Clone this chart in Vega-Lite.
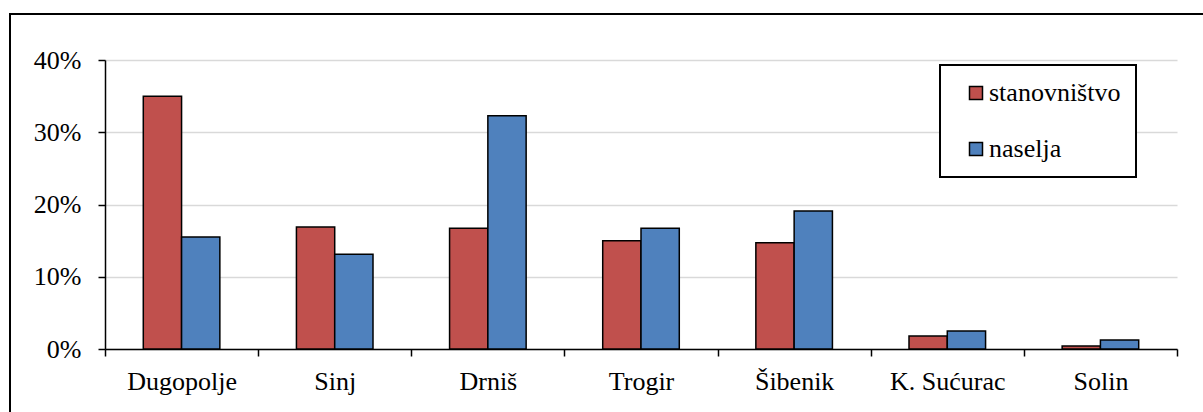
{
  "$schema": "https://vega.github.io/schema/vega-lite/v6.json",
  "autosize": {"type": "none"},
  "padding": {"left": 10, "top": 14, "right": -5, "bottom": -5},
  "width": 1198,
  "height": 403,
  "background": "white",
  "data": {
    "values": [
      {"grad": "Dugopolje", "serija": "stanovništvo", "udio": 0.350},
      {"grad": "Dugopolje", "serija": "naselja", "udio": 0.155},
      {"grad": "Sinj", "serija": "stanovništvo", "udio": 0.169},
      {"grad": "Sinj", "serija": "naselja", "udio": 0.131},
      {"grad": "Drniš", "serija": "stanovništvo", "udio": 0.167},
      {"grad": "Drniš", "serija": "naselja", "udio": 0.323},
      {"grad": "Trogir", "serija": "stanovništvo", "udio": 0.150},
      {"grad": "Trogir", "serija": "naselja", "udio": 0.167},
      {"grad": "Šibenik", "serija": "stanovništvo", "udio": 0.147},
      {"grad": "Šibenik", "serija": "naselja", "udio": 0.191},
      {"grad": "K. Sućurac", "serija": "stanovništvo", "udio": 0.018},
      {"grad": "K. Sućurac", "serija": "naselja", "udio": 0.025},
      {"grad": "Solin", "serija": "stanovništvo", "udio": 0.004},
      {"grad": "Solin", "serija": "naselja", "udio": 0.0125}
    ]
  },
  "mark": {"type": "bar", "stroke": "black", "strokeWidth": 1.5},
  "encoding": {
    "x": {
      "field": "grad",
      "type": "nominal",
      "sort": ["Dugopolje", "Sinj", "Drniš", "Trogir", "Šibenik", "K. Sućurac", "Solin"],
      "scale": {"paddingInner": 0, "paddingOuter": 0, "range": [95, 1167]},
      "axis": {
        "title": null,
        "offset": -68,
        "labelAngle": 0,
        "tickBand": "extent",
        "tickSize": 7,
        "tickColor": "black",
        "tickWidth": 1.5,
        "domainColor": "black",
        "domainWidth": 1.5,
        "labelPadding": 12,
        "labelFontSize": 26,
        "labelColor": "black",
        "grid": false
      }
    },
    "xOffset": {
      "field": "serija",
      "type": "nominal",
      "scale": {"domain": ["stanovništvo", "naselja"], "paddingInner": 0, "paddingOuter": 1.07}
    },
    "y": {
      "field": "udio",
      "type": "quantitative",
      "scale": {"domain": [0, 0.4], "nice": false, "range": [335, 46]},
      "axis": {
        "title": null,
        "offset": -95,
        "format": ".0%",
        "values": [0, 0.1, 0.2, 0.3, 0.4],
        "tickSize": 7,
        "tickColor": "black",
        "tickWidth": 1.5,
        "domainColor": "black",
        "domainWidth": 1.5,
        "labelPadding": 17,
        "labelFontSize": 26,
        "labelColor": "black",
        "grid": true,
        "gridColor": "#D9D9D9",
        "gridWidth": 1.5
      }
    },
    "color": {
      "field": "serija",
      "type": "nominal",
      "scale": {"domain": ["stanovništvo", "naselja"], "range": ["#C0504D", "#4F81BD"]},
      "legend": {
        "title": null,
        "orient": "none",
        "legendX": 930,
        "legendY": 51,
        "padding": 15,
        "strokeColor": "black",
        "fillColor": "white",
        "symbolType": "square",
        "symbolSize": 169,
        "symbolStrokeColor": "black",
        "symbolStrokeWidth": 1.5,
        "symbolOffset": 8,
        "labelOffset": 0,
        "rowPadding": 30,
        "labelFontSize": 26,
        "labelColor": "black",
        "labelLimit": 400
      }
    }
  },
  "config": {
    "font": "Liberation Serif",
    "view": {"stroke": "black", "strokeWidth": 2},
    "axis": {"labelFont": "Liberation Serif"},
    "legend": {"strokeWidth": 2, "labelFont": "Liberation Serif"}
  }
}
